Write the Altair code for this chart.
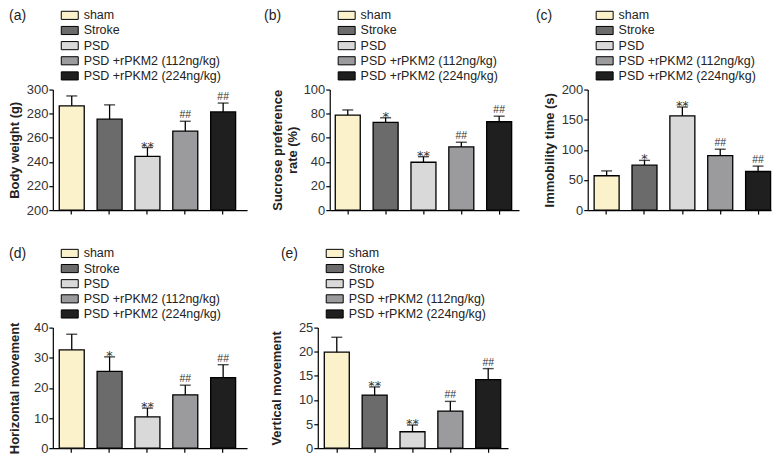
import altair as alt
import pandas as pd

groups = ["sham", "Stroke", "PSD", "PSD +rPKM2 (112ng/kg)", "PSD +rPKM2 (224ng/kg)"]
colors = ["#FBF2CC", "#6B6B6B", "#D9D9D9", "#9B9B9E", "#1F1F1F"]

# (a) Body weight
bw_mean = [286.5, 275.4, 244.6, 265.5, 281.4]
bw_err = [8.2, 11.9, 7.3, 8.2, 7.4]
bw_sig = ["", "", "**", "##", "##"]
bw_ticks = [200, 220, 240, 260, 280, 300]

# (b) Sucrose preference
sp_mean = [78.8, 72.8, 39.7, 52.4, 73.3]
sp_err = [4.3, 3.8, 4.6, 3.9, 4.6]
sp_sig = ["", "*", "**", "##", "##"]
sp_ticks = [0, 20, 40, 60, 80, 100]

# (c) Immobility time
im_mean = [57, 74.5, 156.5, 90.5, 64]
im_err = [8, 8, 14.5, 10.5, 9]
im_sig = ["", "*", "**", "##", "##"]
im_ticks = [0, 50, 100, 150, 200]

# (d) Horizontal movement
hm_mean = [32.6, 25.5, 10.4, 17.7, 23.4]
hm_err = [5.2, 4.8, 2.9, 3.2, 4.3]
hm_sig = ["", "*", "**", "##", "##"]
hm_ticks = [0, 10, 20, 30, 40]

# (e) Vertical movement
vm_mean = [19.9, 11.0, 3.4, 7.7, 14.2]
vm_err = [3.1, 1.7, 1.4, 2.0, 2.3]
vm_sig = ["", "**", "**", "##", "##"]
vm_ticks = [0, 5, 10, 15, 20, 25]

FONT = "Liberation Sans"
H = 121


def panel(label, ytitle, means, errs, sigs, ticks, width, pad_outer, align,
          label_x, title_pad):
    df = pd.DataFrame({
        "group": groups,
        "mean": means,
        "upper": [m + e for m, e in zip(means, errs)],
        "star": [s if "*" in s else "" for s in sigs],
        "hash": [s if "#" in s else "" for s in sigs],
    })
    domain = [ticks[0], ticks[-1]]
    xenc = alt.X(
        "group:N", sort=groups, title=None,
        scale=alt.Scale(domain=groups, paddingInner=0.34,
                        paddingOuter=pad_outer, align=align),
        axis=alt.Axis(labels=False, ticks=True, tickSize=4, tickColor="black",
                      tickWidth=1.2, domainColor="black", domainWidth=1.2,
                      grid=False),
    )
    yscale = alt.Scale(domain=domain, nice=False, zero=False)
    yaxis = alt.Axis(
        values=ticks, title=ytitle, grid=False, tickSize=4,
        tickColor="black", tickWidth=1.2, domainColor="black",
        domainWidth=1.2, labelFont=FONT, labelFontSize=13,
        labelColor="#333333", labelPadding=1, labelOverlap=False,
        titleFont=FONT, titleFontSize=13, titleFontWeight="bold",
        titleColor="#222222", titlePadding=title_pad, titleLineHeight=15)

    def Y(field):
        return alt.Y(field, type="quantitative", scale=yscale, axis=yaxis,
                     title=ytitle)

    base = alt.Chart(df).encode(x=xenc)
    bars = base.mark_bar(stroke="black", strokeWidth=1.3).encode(
        y=Y("mean"),
        y2=alt.datum(domain[0]),
        color=alt.Color("group:N", scale=alt.Scale(domain=groups, range=colors),
                        legend=alt.Legend(
                            orient="none", legendX=10.5, legendY=-81,
                            title=None, direction="vertical",
                            symbolType="M-1.42,-0.68H1.42V0.68H-1.42Z",
                            symbolSize=144,
                            symbolStrokeColor="black", symbolStrokeWidth=1,
                            symbolOpacity=1, labelFont=FONT,
                            labelFontSize=12.5, labelColor="#222222",
                            labelOffset=7.5, rowPadding=2.2)),
    )
    err = base.mark_rule(color="black", strokeWidth=1.3).encode(
        y=Y("mean"), y2="upper:Q")
    cap = base.mark_tick(color="black", thickness=1.4, size=11,
                         orient="horizontal").encode(y=Y("upper"))
    stars = base.transform_filter("datum.star != ''").mark_text(
        font="DejaVu Sans", fontSize=13, baseline="alphabetic", dy=3,
        color="#333333").encode(y=Y("upper"), text="star:N")
    hashes = base.transform_filter("datum.hash != ''").mark_text(
        font=FONT, fontSize=10.5, baseline="alphabetic", dy=-3,
        color="#333333").encode(y=Y("upper"), text="hash:N")
    lab = alt.Chart(pd.DataFrame({"t": [label]})).mark_text(
        font=FONT, fontSize=14, align="left", baseline="middle",
        color="#222222").encode(x=alt.value(label_x), y=alt.value(-74),
                                text="t:N")
    return alt.layer(bars, err, cap, stars, hashes, lab).properties(
        width=width, height=H)


pa = panel("(a)", "Body weight (g)", bw_mean, bw_err, bw_sig, bw_ticks,
           195, 0.236, 0.36, -44, 5)
pb = panel("(b)", ["Sucrose preference", "rate (%)"], sp_mean, sp_err, sp_sig,
           sp_ticks, 190, 0.17, 0.43, -66, 4)
pc = panel("(c)", "Immobility time (s)", im_mean, im_err, im_sig, im_ticks,
           184, 0.09, 0.94, -52, 5)
pd_ = panel("(d)", "Horizontal movement", hm_mean, hm_err, hm_sig, hm_ticks,
            195, 0.236, 0.36, -44, 12)
pe = panel("(e)", "Vertical movement", vm_mean, vm_err, vm_sig, vm_ticks,
           191, 0.183, 0.47, -37, 15)

row1 = alt.hconcat(pa, pb, pc, spacing=17).resolve_scale(
    color="independent", x="independent", y="independent").resolve_legend(
    color="independent")
row2 = alt.hconcat(pd_, pe, spacing=23).resolve_scale(
    color="independent", x="independent", y="independent").resolve_legend(
    color="independent")

chart = alt.vconcat(row1, row2, spacing=30).resolve_scale(
    color="independent", x="independent", y="independent").resolve_legend(
    color="independent").properties(padding=0, background="white").configure_view(
    stroke=None)

chart.save("out.html", embed_options={"renderer": "svg", "actions": False})
